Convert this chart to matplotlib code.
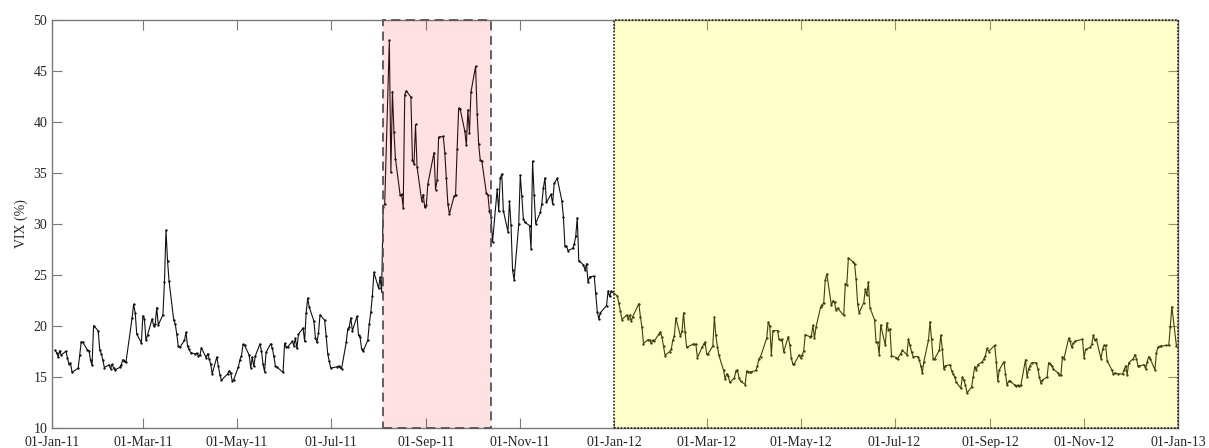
import numpy as np
import pandas as pd
import matplotlib
matplotlib.use("Agg")
import matplotlib.pyplot as plt
import matplotlib.dates as mdates
from matplotlib.patches import Rectangle

# VIX daily closes (%), one list per calendar month
vix_2011_01 = [17.61, 17.38, 16.99, 17.58, 17.14, 17.54, 16.89, 16.24, 16.39, 15.46,
               15.87, 17.20, 18.47, 18.40, 17.65, 17.59, 16.64, 16.15, 20.04, 19.53]
vix_2011_02 = [17.63, 17.30, 16.69, 15.93, 16.19, 15.81, 16.23, 15.90, 15.69, 15.95,
               16.20, 16.70, 16.60, 16.43, 20.80, 22.13, 21.32, 19.22, 18.35]
vix_2011_03 = [21.00, 20.70, 18.60, 19.10, 20.70, 20.00, 20.20, 21.80, 20.10, 21.10,
               24.30, 29.40, 26.40, 24.40, 20.60, 20.20, 19.20, 18.00, 17.90, 18.60,
               19.40, 18.00, 17.70]
vix_2011_04 = [17.40, 17.25, 17.34, 17.10, 17.11, 17.87, 16.90, 17.28, 16.80, 16.27,
               15.32, 16.96, 16.10, 15.20, 14.69, 15.30, 15.62, 15.40, 14.62, 14.75]
vix_2011_05 = [15.99, 16.70, 17.08, 18.20, 18.10, 17.16, 15.91, 16.95, 16.03, 17.07,
               18.24, 17.57, 16.23, 15.52, 17.43, 18.27, 17.82, 17.07, 16.09, 15.98,
               15.45]
vix_2011_06 = [18.30, 17.95, 17.95, 18.49, 18.07, 18.79, 17.80, 19.20, 19.80, 18.50,
               21.32, 22.73, 21.85, 20.50, 18.86, 18.40, 19.29, 21.10, 20.56, 19.00,
               17.27, 16.52]
vix_2011_07 = [15.87, 16.00, 16.07, 15.95, 15.80, 18.39, 19.70, 19.91, 20.80, 19.53,
               20.95, 19.10, 18.90, 17.77, 17.52, 18.60, 20.23, 21.40, 22.98, 25.25]
vix_2011_08 = [23.72, 24.79, 23.38, 31.66, 32.00, 48.00, 35.06, 42.99, 39.00, 36.36,
               32.85, 32.91, 31.58, 42.67, 43.05, 42.44, 36.27, 35.90, 39.76, 35.59,
               32.28, 32.89, 31.62]
vix_2011_09 = [31.82, 33.92, 37.00, 33.38, 34.30, 38.52, 38.59, 37.00, 34.50, 31.97,
               30.98, 32.73, 32.86, 37.32, 41.35, 41.25, 39.10, 37.70, 41.20, 38.90,
               42.96]
vix_2011_10 = [45.45, 40.82, 37.81, 36.27, 36.20, 33.02, 32.86, 31.26, 30.70, 28.24,
               33.39, 31.26, 34.50, 34.90, 31.32, 29.26, 32.22, 29.86, 25.46, 24.53,
               29.96]
vix_2011_11 = [34.77, 32.74, 30.50, 30.16, 29.85, 27.50, 36.16, 32.81, 30.04, 31.13,
               32.00, 33.51, 34.51, 32.13, 32.91, 31.97, 33.98, 34.47, 32.28, 30.70,
               27.80]
vix_2011_12 = [27.80, 27.40, 27.60, 28.00, 28.80, 30.60, 26.40, 26.00, 25.50, 26.10,
               24.30, 24.80, 24.90, 23.20, 21.40, 20.70, 21.30, 22.00, 23.40, 22.90,
               23.40]
vix_2012_01 = [22.97, 22.22, 21.48, 20.63, 21.07, 20.69, 21.05, 20.47, 20.91, 22.20,
               20.89, 19.87, 18.28, 18.67, 18.60, 18.30, 18.60, 18.53, 19.20, 19.44]
vix_2012_02 = [18.90, 18.00, 17.10, 17.50, 17.70, 18.60, 19.00, 20.79, 19.00, 19.50,
               21.30, 19.40, 17.90, 18.20, 18.20, 18.20, 16.90, 17.90, 18.20, 18.43]
vix_2012_03 = [17.26, 17.29, 18.05, 20.87, 19.07, 17.95, 17.11, 15.64, 14.80, 15.31,
               15.10, 14.47, 14.90, 15.60, 15.70, 14.90, 14.60, 14.26, 15.59, 15.47,
               15.48, 15.50]
vix_2012_04 = [15.64, 16.12, 16.80, 17.00, 18.81, 20.39, 20.00, 17.20, 19.55, 19.55,
               18.70, 18.60, 18.70, 17.44, 18.97, 18.10, 16.82, 16.24, 16.32, 17.15]
vix_2012_05 = [16.88, 17.15, 17.56, 19.16, 18.94, 19.05, 20.08, 18.83, 19.89, 21.87,
               22.10, 22.27, 24.49, 25.10, 22.01, 22.48, 22.33, 21.54, 21.76, 21.03,
               24.14, 24.06]
vix_2012_06 = [26.66, 26.30, 26.10, 24.60, 22.20, 21.30, 22.30, 23.60, 23.00, 24.30,
               21.80, 20.60, 18.40, 18.40, 17.20, 20.10, 18.10, 20.30, 19.60, 19.70,
               17.10]
vix_2012_07 = [16.90, 16.80, 17.30, 17.60, 17.20, 18.70, 18.10, 17.50, 17.00, 17.00,
               16.70, 16.10, 15.40, 16.50, 18.60, 20.40, 18.70, 16.80, 16.80, 17.60,
               19.10]
vix_2012_08 = [17.70, 15.80, 16.10, 16.20, 15.60, 15.30, 15.00, 14.50, 13.90, 15.00,
               14.70, 14.20, 13.45, 14.00, 15.00, 16.00, 15.70, 16.20, 16.50, 16.80,
               17.10, 17.80, 17.50]
vix_2012_09 = [18.10, 16.50, 14.60, 15.70, 16.50, 15.30, 14.20, 14.60, 14.60, 14.20,
               14.10, 14.20, 14.10, 14.20, 16.70, 15.00, 15.80, 16.10, 16.40]
vix_2012_10 = [16.40, 15.80, 15.00, 14.40, 14.70, 15.00, 16.40, 16.30, 16.10, 15.80,
               15.40, 15.20, 15.20, 17.00, 16.80, 18.80, 18.50, 17.90, 18.30, 18.50,
               18.70]
vix_2012_11 = [16.90, 17.70, 17.90, 18.20, 19.10, 18.60, 18.70, 16.80, 17.70, 18.10,
               18.10, 16.60, 15.70, 15.30, 15.40, 15.30, 15.30, 15.70, 16.10, 15.20,
               16.40]
vix_2012_12 = [16.80, 17.20, 16.80, 16.10, 16.10, 16.20, 15.80, 16.50, 17.00, 16.80,
               15.70, 17.40, 17.90, 18.00, 18.00, 18.10, 18.10, 19.90, 21.90, 18.02]

monthly_series = [
    ("2011-01", vix_2011_01), ("2011-02", vix_2011_02), ("2011-03", vix_2011_03),
    ("2011-04", vix_2011_04), ("2011-05", vix_2011_05), ("2011-06", vix_2011_06),
    ("2011-07", vix_2011_07), ("2011-08", vix_2011_08), ("2011-09", vix_2011_09),
    ("2011-10", vix_2011_10), ("2011-11", vix_2011_11), ("2011-12", vix_2011_12),
    ("2012-01", vix_2012_01), ("2012-02", vix_2012_02), ("2012-03", vix_2012_03),
    ("2012-04", vix_2012_04), ("2012-05", vix_2012_05), ("2012-06", vix_2012_06),
    ("2012-07", vix_2012_07), ("2012-08", vix_2012_08), ("2012-09", vix_2012_09),
    ("2012-10", vix_2012_10), ("2012-11", vix_2012_11), ("2012-12", vix_2012_12),
]

# exchange holidays (no close recorded)
market_holidays = [
    "2011-01-17", "2011-02-21", "2011-04-22", "2011-05-30", "2011-07-04",
    "2011-09-05", "2011-11-24", "2011-12-26",
    "2012-01-02", "2012-01-16", "2012-02-20", "2012-04-06", "2012-05-28",
    "2012-07-04", "2012-09-03", "2012-10-29", "2012-10-30", "2012-11-22",
    "2012-12-25",
]

# shaded periods
crisis_window = ("2011-08-04", "2011-10-13")
calm_window = ("2012-01-01", "2013-01-01")

x_range = ("2011-01-01", "2013-01-01")
y_ticks = [10, 15, 20, 25, 30, 35, 40, 45, 50]


def month_dates(month, n):
    start = pd.Timestamp(month + "-01")
    end = start + pd.offsets.MonthEnd(0)
    days = pd.bdate_range(start, end, freq="C", holidays=market_holidays)
    if len(days) != n:
        idx = np.round(np.linspace(0, len(days) - 1, n)).astype(int)
        days = days[idx]
    return days


dates = []
values = []
for month, vals in monthly_series:
    dates.extend(month_dates(month, len(vals)))
    values.extend(vals)
dates = pd.DatetimeIndex(dates)
values = np.array(values)

plt.rcParams["font.family"] = ["Liberation Serif", "DejaVu Serif"]
plt.rcParams["font.size"] = 10

fig = plt.figure(figsize=(12.09, 4.48), dpi=100)
ax = fig.add_axes([52 / 1209, 20 / 448, 1126 / 1209, 408 / 448])

ax.plot(dates, values, color="#111111", linewidth=0.8, marker="o",
        markersize=1.7, markerfacecolor="#111111", markeredgewidth=0, zorder=2)

x0 = mdates.date2num(pd.Timestamp(crisis_window[0]))
x1 = mdates.date2num(pd.Timestamp(crisis_window[1]))
ax.add_patch(Rectangle((x0, 10), x1 - x0, 40, facecolor=(1.0, 0.0, 0.1),
                       alpha=0.12, edgecolor="none", zorder=3))
ax.add_patch(Rectangle((x0, 10), x1 - x0, 40, facecolor="none",
                       edgecolor="#555555", linestyle=(0, (5, 3)),
                       linewidth=1.3, zorder=4, clip_on=False))

y0 = mdates.date2num(pd.Timestamp(calm_window[0]))
y1 = mdates.date2num(pd.Timestamp(calm_window[1]))
ax.add_patch(Rectangle((y0, 10), y1 - y0, 40, facecolor=(1.0, 1.0, 0.0),
                       alpha=0.2, edgecolor="none", zorder=3))
ax.add_patch(Rectangle((y0, 10), y1 - y0, 40, facecolor="none",
                       edgecolor="#222222", linestyle=(0, (1, 1)),
                       linewidth=1.2, zorder=4, clip_on=False))

ax.set_xlim(pd.Timestamp(x_range[0]), pd.Timestamp(x_range[1]))
ax.set_ylim(10, 50)
ax.set_yticks(y_ticks)
ax.xaxis.set_major_locator(mdates.MonthLocator(bymonth=[1, 3, 5, 7, 9, 11]))
ax.xaxis.set_major_formatter(mdates.DateFormatter("%d-%b-%y"))

for side in ax.spines.values():
    side.set_color("#7a7a7a")
    side.set_linewidth(1.0)
ax.tick_params(direction="in", length=7.5, width=0.8, color="#7a7a7a",
               labelcolor="#262626", top=True, right=True)
ax.tick_params(axis="x", pad=6)
ax.tick_params(axis="y", pad=3.5)
ax.set_ylabel("VIX (%)", color="#262626", labelpad=4)

fig.savefig("out.png", dpi=100)
